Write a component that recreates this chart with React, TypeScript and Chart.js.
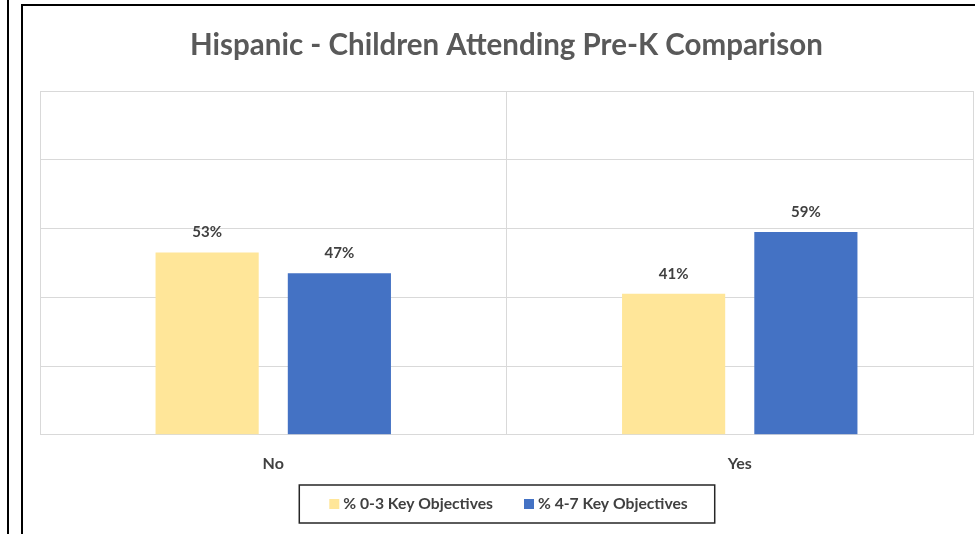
import React, { useEffect, useRef } from "react";
import { Chart, registerables } from "chart.js";

Chart.register(...registerables);

const categories = ["No", "Yes"];
const series1Name = "% 0-3 Key Objectives";
const series2Name = "% 4-7 Key Objectives";
const series1Values = [53, 41];
const series2Values = [47, 59];
const titleText = "Hispanic - Children Attending Pre-K Comparison";

const COLORS = ["#FFE699", "#4472C4"];
const FONT = "Lato, 'Open Sans', sans-serif";

const dataLabelPlugin = {
  id: "dataLabels",
  afterDatasetsDraw(chart: any) {
    const ctx = chart.ctx;
    ctx.save();
    ctx.font = `bold 15px ${FONT}`;
    ctx.fillStyle = "#404040";
    ctx.textAlign = "center";
    ctx.textBaseline = "middle";
    chart.data.datasets.forEach((ds: any, i: number) => {
      const meta = chart.getDatasetMeta(i);
      meta.data.forEach((bar: any, j: number) => {
        ctx.fillText(`${ds.data[j]}%`, bar.x, bar.y - 20);
      });
    });
    ctx.restore();
  },
};

const customLegendPlugin = {
  id: "customLegend",
  afterDraw(chart: any) {
    const ctx = chart.ctx;
    ctx.save();
    ctx.font = `bold 15.7px ${FONT}`;
    const items = chart.data.datasets.map((ds: any, i: number) => ({
      text: ds.label,
      color: COLORS[i],
      w: ctx.measureText(ds.label).width,
    }));
    const box = 10;
    const gapBoxText = 4;
    const gapItems = 31;
    let total = 0;
    items.forEach((it: any, i: number) => {
      total += box + gapBoxText + it.w + (i < items.length - 1 ? gapItems : 0);
    });
    const ca = chart.chartArea;
    const cx = (ca.left + ca.right) / 2 + 2;
    const cy = 504;
    let x = cx - total / 2;
    const startX = x;
    ctx.textBaseline = "middle";
    ctx.textAlign = "left";
    items.forEach((it: any) => {
      ctx.fillStyle = it.color;
      ctx.fillRect(x, cy - box / 2, box, box);
      x += box + gapBoxText;
      ctx.fillStyle = "#404040";
      ctx.fillText(it.text, x, cy);
      x += it.w + gapItems;
    });
    const endX = x - gapItems;
    ctx.strokeStyle = "#262626";
    ctx.lineWidth = 1.5;
    ctx.strokeRect(startX - 30, cy - 19, endX - startX + 57, 38);
    ctx.restore();
  },
};

export default function App() {
  const canvasRef = useRef<HTMLCanvasElement | null>(null);

  useEffect(() => {
    if (!canvasRef.current) return;
    const chart = new Chart(canvasRef.current, {
      type: "bar",
      data: {
        labels: categories,
        datasets: [
          {
            label: series1Name,
            data: series1Values,
            backgroundColor: COLORS[0],
            categoryPercentage: 0.567,
            barPercentage: 0.78,
          },
          {
            label: series2Name,
            data: series2Values,
            backgroundColor: COLORS[1],
            categoryPercentage: 0.567,
            barPercentage: 0.78,
          },
        ],
      },
      options: {
        animation: false,
        responsive: false,
        maintainAspectRatio: false,
        layout: { padding: { left: 40, right: 2, top: 0, bottom: 42 } },
        plugins: {
          title: {
            display: true,
            text: titleText,
            color: "#595959",
            font: { family: FONT, size: 29.5, weight: "bold" },
            padding: { top: 28, bottom: 27.6 },
          },
          legend: { display: false },
          tooltip: { enabled: false },
        },
        scales: {
          x: {
            offset: true,
            grid: {
              display: true,
              offset: true,
              color: "#d9d9d9",
              drawTicks: false,
            },
            border: { display: true, color: "#d9d9d9" },
            ticks: {
              color: "#404040",
              font: { family: FONT, size: 16, weight: "bold" },
              padding: 19,
            },
          },
          y: {
            min: 0,
            max: 100,
            ticks: { display: false, stepSize: 20 },
            grid: { color: "#d9d9d9", drawTicks: false },
            border: { display: true, color: "#d9d9d9" },
          },
        },
      },
      plugins: [dataLabelPlugin, customLegendPlugin],
    });
    return () => chart.destroy();
  }, []);

  return (
    <div
      style={{
        position: "fixed",
        left: 0,
        top: 0,
        width: 975,
        height: 534,
        background: "#fff",
        overflow: "hidden",
      }}
    >
      <div
        style={{
          position: "absolute",
          left: 7,
          top: 0,
          width: 2,
          height: 534,
          background: "#000",
        }}
      />
      <div
        style={{
          position: "absolute",
          left: 21,
          top: 4,
          width: 960,
          height: 540,
          borderLeft: "2px solid #000",
          borderTop: "2px solid #000",
          boxSizing: "border-box",
        }}
      />
      <canvas
        ref={canvasRef}
        width={975}
        height={534}
        style={{ position: "absolute", left: 0, top: 0, width: 975, height: 534 }}
      />
    </div>
  );
}
